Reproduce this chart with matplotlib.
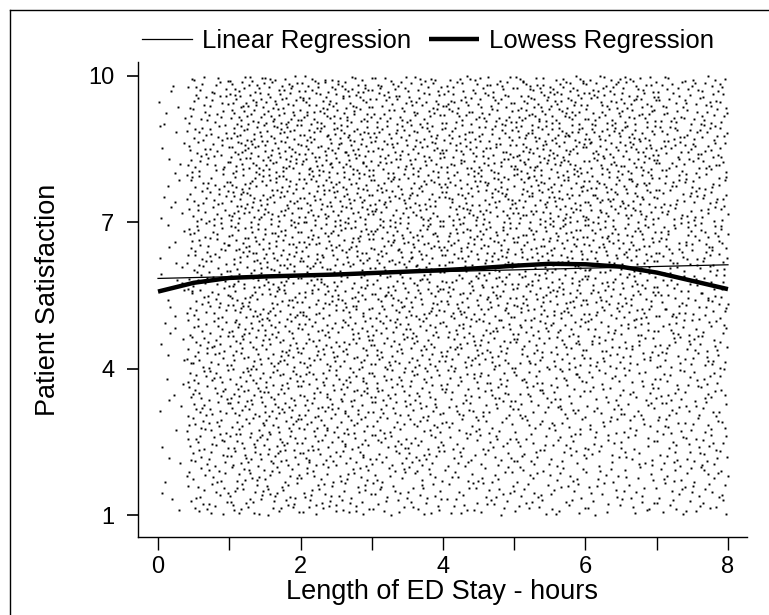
import numpy as np
import matplotlib
matplotlib.use("Agg")
import matplotlib.pyplot as plt
from matplotlib.lines import Line2D

# ---------------- data ----------------
# Scatter cloud: dot density (dots per hour per satisfaction point) per cell
x_edges = [0.0, 0.4, 1.0, 2.0, 3.0, 4.0, 5.0, 6.0, 7.0, 8.0]
y_edges = [1, 2, 3, 4, 5, 6, 7, 8, 9, 10]
# rows from satisfaction 1-2 (bottom) up to 9-10 (top)
density = [
    [9, 52, 63, 58, 52, 46, 46, 40, 46],
    [11, 63, 75, 69, 63, 52, 52, 46, 52],
    [14, 69, 80, 75, 69, 63, 58, 52, 52],
    [17, 69, 80, 75, 75, 75, 69, 63, 58],
    [17, 69, 86, 80, 80, 80, 80, 75, 63],
    [17, 69, 86, 86, 86, 86, 86, 80, 69],
    [17, 69, 92, 92, 86, 86, 92, 86, 69],
    [17, 69, 98, 98, 86, 86, 98, 92, 75],
    [17, 63, 92, 92, 80, 80, 92, 86, 69],
]

linear_x = [0, 8]
linear_y = [5.85, 6.13]

lowess_x = [0, 0.5, 1, 1.5, 2, 2.5, 3, 3.5, 4, 4.5, 5, 5.5, 6, 6.5, 7, 7.5, 8]
lowess_y = [5.58, 5.76, 5.86, 5.89, 5.91, 5.93, 5.96, 5.99, 6.02, 6.06,
            6.11, 6.15, 6.14, 6.09, 5.97, 5.80, 5.63]

x_ticks = [0, 1, 2, 3, 4, 5, 6, 7, 8]
x_tick_labels = ["0", "", "2", "", "4", "", "6", "", "8"]
y_ticks = [1, 4, 7, 10]
y_tick_labels = ["1", "4", "7", "10"]

x_label = "Length of ED Stay - hours"
y_label = "Patient Satisfaction"
legend_labels = ["Linear Regression", "Lowess Regression"]


# ---------------- place dots inside each density cell ----------------
def halton(i, base):
    f, r = 1.0, 0.0
    while i > 0:
        f /= base
        r += f * (i % base)
        i //= base
    return r


pts_x, pts_y = [], []
k = 1
for r in range(len(y_edges) - 1):
    for c in range(len(x_edges) - 1):
        x0, x1 = x_edges[c], x_edges[c + 1]
        y0, y1 = y_edges[r], y_edges[r + 1]
        n = int(round(density[r][c] * (x1 - x0) * (y1 - y0)))
        for _ in range(n):
            pts_x.append(x0 + (x1 - x0) * halton(k, 2))
            pts_y.append(y0 + (y1 - y0) * halton(k, 3))
            k += 1

# ---------------- figure ----------------
plt.rcParams['font.family'] = ['Liberation Sans', 'DejaVu Sans']
W, H = 769, 615
L, R, T, B = 138, 747, 62, 537
fig = plt.figure(figsize=(W / 100, H / 100), dpi=100)
ax = fig.add_axes([L / W, 1 - B / H, (R - L) / W, (B - T) / H])

ax.plot(pts_x, pts_y, linestyle='none', marker='s', ms=1.4, mew=0,
        color='black', zorder=1)
l1, = ax.plot(linear_x, linear_y, color='black', lw=0.9, zorder=3)
l2, = ax.plot(lowess_x, lowess_y, color='black', lw=3.2, zorder=4,
              solid_capstyle='butt', solid_joinstyle='round')

ax.set_xlim(-0.281, 8.267)
ax.set_ylim(1 - (B - 515) / 48.78, 10.287)

for s in ['top', 'right']:
    ax.spines[s].set_visible(False)
for s in ['left', 'bottom']:
    ax.spines[s].set_linewidth(1.0)

ax.set_xticks(x_ticks)
ax.set_xticklabels(x_tick_labels)
ax.set_yticks(y_ticks)
ax.set_yticklabels(y_tick_labels)
ax.tick_params(axis='x', length=9, width=1.0, labelsize=17, pad=5)
ax.tick_params(axis='y', length=8, width=1.2, labelsize=17, pad=9)

ax.set_xlabel(x_label, fontsize=19.5, va='center')
ax.xaxis.set_label_coords(0.5, -(592 - B) / (B - T))
ax.set_ylabel(y_label, fontsize=19.5, va='center')
ax.yaxis.set_label_coords(-(L - 48) / (R - L), 0.5)

fig.legend([l1, l2], legend_labels, ncol=2, frameon=False,
           loc='center', bbox_to_anchor=(428 / W, 1 - 41 / H),
           fontsize=18.5, handlelength=1.95, handletextpad=0.4,
           columnspacing=0.7, borderpad=0, borderaxespad=0)

# outer frame of the figure
fig.add_artist(Line2D([10 / W, 10 / W], [0, 1 - 10 / H], transform=fig.transFigure,
                      color='black', lw=1.0))
fig.add_artist(Line2D([10 / W, 1], [1 - 10 / H, 1 - 10 / H], transform=fig.transFigure,
                      color='black', lw=1.0))

fig.savefig("out.png", dpi=100)
